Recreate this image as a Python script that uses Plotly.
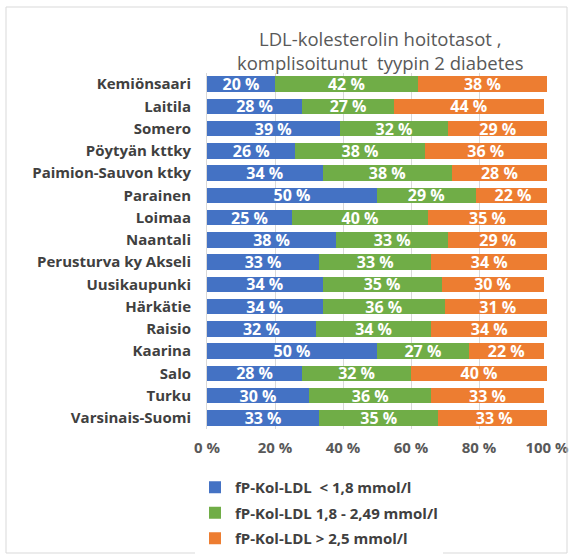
import plotly.graph_objects as go

categories = ["Kemiönsaari", "Laitila", "Somero", "Pöytyän kttky", "Paimion-Sauvon ktky",
              "Parainen", "Loimaa", "Naantali", "Perusturva ky Akseli", "Uusikaupunki",
              "Härkätie", "Raisio", "Kaarina", "Salo", "Turku", "Varsinais-Suomi"]
low = [20, 28, 39, 26, 34, 50, 25, 38, 33, 34, 34, 32, 50, 28, 30, 33]
mid = [42, 27, 32, 38, 38, 29, 40, 33, 33, 35, 36, 34, 27, 32, 36, 35]
high = [38, 44, 29, 36, 28, 22, 35, 29, 34, 30, 31, 34, 22, 40, 33, 33]
series_names = ["fP-Kol-LDL  < 1,8 mmol/l", "fP-Kol-LDL 1,8 - 2,49 mmol/l", "fP-Kol-LDL > 2,5 mmol/l"]
colors = ["#4472C4", "#70AD47", "#ED7D31"]
tick_vals = [0, 20, 40, 60, 80, 100]
tick_text = ["0 %", "20 %", "40 %", "60 %", "80 %", "100 %"]
title_lines = ["LDL-kolesterolin hoitotasot ,", "komplisoitunut  tyypin 2 diabetes"]

FONT = "Open Sans"
fig = go.Figure()
for i, (name, vals) in enumerate(zip(series_names, [low, mid, high])):
    fig.add_trace(go.Bar(
        y=categories, x=vals, orientation="h", name=name,
        marker=dict(color=colors[i], line=dict(width=0)),
        text=[f"{v} %" for v in vals], texttemplate="%{text}",
        textposition="inside", insidetextanchor="middle",
        textfont=dict(color="white", size=16, family=FONT, weight="bold"),
        legendgroup=f"g{i}",
        hoverinfo="skip",
    ))

W, H = 574, 555
L, R, T, B = 207, 27, 73, 126
pw, ph = W - L - R, H - T - B

fig.update_layout(
    width=W, height=H,
    barmode="stack", bargap=0.31,
    margin=dict(l=L, r=R, t=T, b=B, autoexpand=False),
    paper_bgcolor="white", plot_bgcolor="white",
    showlegend=True,
    uniformtext=dict(minsize=12, mode="show"),
    legend=dict(
        x=(195 - L) / pw, xanchor="left",
        y=-(471 - (T + ph)) / ph, yanchor="top",
        orientation="v", traceorder="grouped", tracegroupgap=3,
        font=dict(family=FONT, size=15, color="#404040", weight="bold"),
        itemwidth=30,
    ),
    xaxis=dict(
        range=[0, 100], tickvals=tick_vals, ticktext=tick_text,
        showgrid=True, gridcolor="#D9D9D9", gridwidth=1,
        zeroline=False, showline=False, automargin=False,
        tickfont=dict(family=FONT, size=15, color="#595959", weight="bold"),
        ticks="", ticklabelstandoff=8,
    ),
    yaxis=dict(
        autorange="reversed", showgrid=False, zeroline=False,
        showline=True, linecolor="#D9D9D9", linewidth=1, automargin=False,
        tickfont=dict(family=FONT, size=15, color="#404040", weight="bold"),
        ticks="", ticklabelstandoff=12,
    ),
    shapes=[dict(
        type="rect", xref="paper", yref="paper",
        x0=(6 - L) / pw, x1=(567 - L) / pw,
        y0=-(553 - (T + ph)) / ph, y1=1 + (T - 7) / ph,
        line=dict(color="#D9D9D9", width=1), fillcolor="rgba(0,0,0,0)", layer="above",
    )],
    annotations=[dict(
        text="<br>".join(title_lines), xref="paper", yref="paper",
        x=(380 - L) / pw, y=1 + (T - 51) / ph, xanchor="center", yanchor="middle",
        showarrow=False,
        font=dict(family=FONT, size=18.5, color="#595959"),
    )],
)

fig.write_html("out.html", config={"displayModeBar": False},
               post_script="document.body.style.margin='0px';")
